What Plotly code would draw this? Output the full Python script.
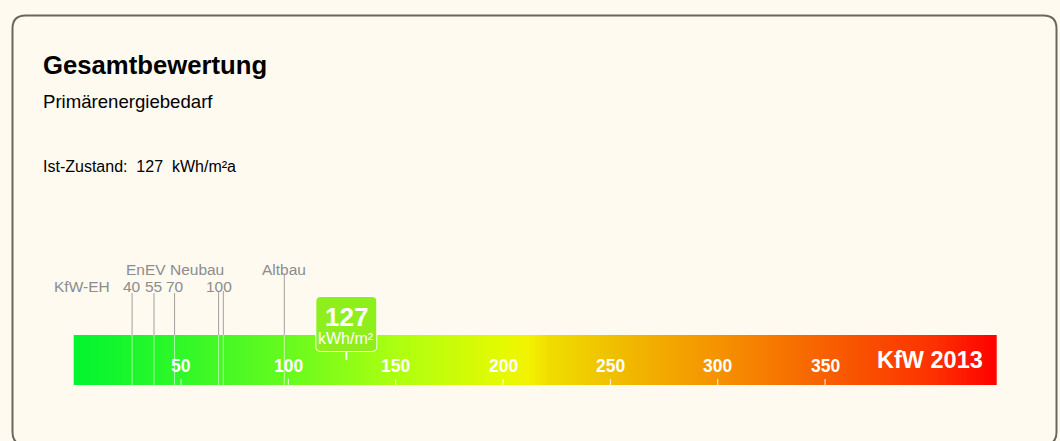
import numpy as np
import plotly.graph_objects as go

# ---------------- data ----------------
title_text = "Gesamtbewertung"
subtitle_text = "Primärenergiebedarf"
status_label = "Ist-Zustand:"
current_value = 127
unit_long = "kWh/m²a"
unit_short = "kWh/m²"
scale_name = "KfW 2013"
scale_min = 0
scale_max = 430
scale_ticks = [50, 100, 150, 200, 250, 300, 350]
gradient_values = [0, 50, 100, 150, 200, 212, 222, 250, 300, 350, 400, 430]
gradient_colors = ["#02f52f", "#30f828", "#68fa1e", "#acff10", "#e4fa00", "#f4f200",
                   "#f0dc00", "#f0c000", "#f59200", "#f86000", "#fc3200", "#ff0000"]
kfw_eh_values = [27.2, 37.4, 47.0]
kfw_eh_labels = ["40", "55", "70"]
enev_values = [67.5, 69.7]
enev_label = "100"
altbau_value = 98.1

# ---------------- layout constants ----------------
W, H = 1060, 441
PX0 = 73.7          # pixel position of value 0
PXU = 2.1467        # pixels per unit
x_range = [-PX0 / PXU, (W - PX0) / PXU]
BAR_TOP, BAR_BOT = 335, 385
BG = "#fefaf0"
FONT = "Liberation Sans, Arial, sans-serif"
GREY = "#8c8c8c"

fig = go.Figure()

# gradient bar
edges = np.arange(scale_min, scale_max + 1)
centers = (edges[:-1] + edges[1:]) / 2
cscale = [[(v - scale_min) / (scale_max - scale_min), c] for v, c in zip(gradient_values, gradient_colors)]
fig.add_trace(go.Heatmap(x=edges, y=[BAR_TOP, BAR_BOT], z=[centers], colorscale=cscale,
                         zmin=scale_min, zmax=scale_max, showscale=False, hoverinfo="skip"))


def rpath(x0, y0, x1, y1, r):
    return (f"M {x0 + r},{y0} L {x1 - r},{y0} Q {x1},{y0} {x1},{y0 + r} "
            f"L {x1},{y1 - r} Q {x1},{y1} {x1 - r},{y1} L {x0 + r},{y1} "
            f"Q {x0},{y1} {x0},{y1 - r} L {x0},{y0 + r} Q {x0},{y0} {x0 + r},{y0} Z")


shapes = []
# outer rounded frame
shapes.append(dict(type="path", xref="x", yref="y", xsizemode="pixel", xanchor=x_range[0],
                   path=rpath(12.5, 15.5, 1056.5, 445, 13),
                   line=dict(color="#67675f", width=2), fillcolor="rgba(0,0,0,0)", layer="below"))

# reference lines
ref_lines = [(v, 293) for v in kfw_eh_values] + [(v, 291) for v in enev_values] + [(altbau_value, 275)]
for v, top in ref_lines:
    shapes.append(dict(type="line", xref="x", yref="y", x0=v, x1=v, y0=top, y1=BAR_TOP,
                       line=dict(color="#a0a0a0", width=1)))
    shapes.append(dict(type="line", xref="x", yref="y", x0=v, x1=v, y0=BAR_TOP, y1=BAR_BOT,
                       line=dict(color="rgba(255,255,255,0.6)", width=1)))

# tick marks on bar
for t in scale_ticks:
    shapes.append(dict(type="line", xref="x", yref="y", x0=t, x1=t, y0=379, y1=BAR_BOT,
                       line=dict(color="rgba(255,255,255,0.9)", width=1)))

# current value marker box
shapes.append(dict(type="path", xref="x", yref="y", xsizemode="pixel", xanchor=current_value,
                   path=rpath(-30.5, 296.5, 30.5, 351.5, 5),
                   line=dict(color="white", width=1), fillcolor="#8eef1c"))
shapes.append(dict(type="line", xref="x", yref="y", x0=current_value, x1=current_value, y0=352, y1=360,
                   line=dict(color="white", width=2)))

ann = []


def A(text, x, y, size, color="black", bold=False, xanchor="center", xref="x", xshift=0):
    ann.append(dict(text=text, x=x, y=y, xref=xref, yref="y", xanchor=xanchor, yanchor="middle",
                    showarrow=False, xshift=xshift, borderpad=0,
                    font=dict(family=FONT, size=size, color=color, weight="bold" if bold else "normal")))


A(title_text, 43 / W, 64.5, 25.7, bold=True, xanchor="left", xref="paper", xshift=-1)
A(subtitle_text, 43 / W, 101.5, 18.6, xanchor="left", xref="paper", xshift=-1)
A(f"{status_label}  {current_value}  {unit_long}", 43 / W, 166.5, 16, xanchor="left", xref="paper", xshift=-1)

# reference labels
A("KfW-EH", kfw_eh_values[0], 286, 15.5, color=GREY, xanchor="right", xshift=-21)
for v, lab in zip(kfw_eh_values, kfw_eh_labels):
    A(lab, v, 286, 15.5, color=GREY)
A(enev_label, sum(enev_values) / 2, 286, 15.5, color=GREY, xshift=-2)
A("EnEV Neubau", kfw_eh_values[-1], 269.5, 15.5, color=GREY)
A("Altbau", altbau_value, 269.5, 15.5, color=GREY)

# scale tick labels
for t in scale_ticks:
    A(str(t), t, 366, 17.5, color="white", bold=True)
A(scale_name, 984 / W, 360, 23.5, color="white", bold=True, xanchor="right", xref="paper")

# marker text
A(str(current_value), current_value, 316.5, 26, color="white", bold=True)
A(unit_short, current_value, 338, 16, color="white")

fig.update_layout(
    width=W, height=H, margin=dict(l=0, r=0, t=0, b=0, pad=0),
    paper_bgcolor=BG, plot_bgcolor=BG,
    xaxis=dict(range=x_range, visible=False, fixedrange=True),
    yaxis=dict(range=[H, 0], visible=False, fixedrange=True),
    shapes=shapes, annotations=ann, showlegend=False,
)

fig.write_html("out.html", config={"displayModeBar": False},
               post_script="document.body.style.margin='0';")
